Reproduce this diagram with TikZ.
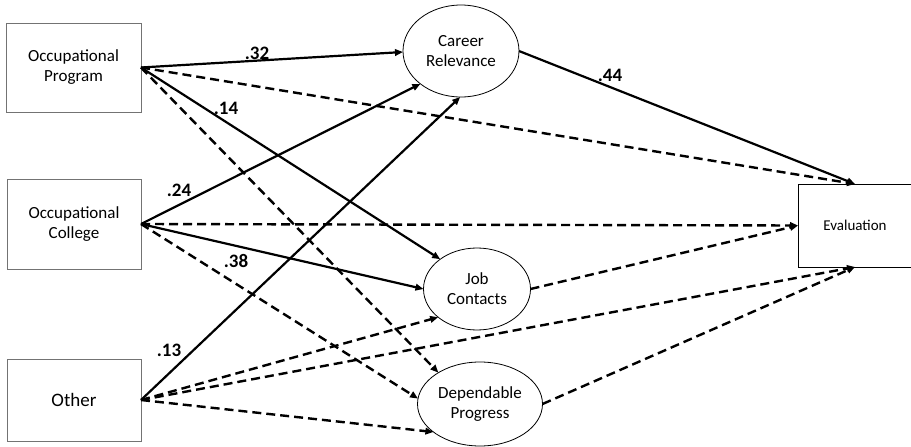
\documentclass[tikz,border=0pt]{standalone}
\usepackage{fontspec}
\setmainfont{Carlito}
\usetikzlibrary{arrows.meta,shapes.geometric}
\tikzset{
  boxnode/.style={draw=black!55, line width=0.9pt, fill=white, inner sep=0pt, outer sep=0pt, align=center, font=\fontsize{17}{20}\selectfont},
  ellnode/.style={ellipse, draw=black, line width=0.8pt, fill=white, inner sep=0pt, outer sep=0pt, align=center, font=\fontsize{17}{20}\selectfont},
  solidarrow/.style={line width=2.2pt, -{Triangle[length=8pt,width=6.5pt]}},
  dasharrow/.style={line width=2.4pt, dash pattern=on 9pt off 5pt, -{Triangle[length=8pt,width=6.5pt]}},
  coef/.style={font=\fontsize{19}{22}\selectfont\bfseries, inner sep=0pt}
}
\begin{document}
\begin{tikzpicture}[x=1pt,y=-1pt]
\useasboundingbox (0,0) rectangle (911,447);
% left boxes
\node[boxnode, minimum width=135pt, minimum height=89pt] (op) at (73.5,67.5) {Occupational\\Program};
\node[boxnode, minimum width=134pt, minimum height=90pt] (oc) at (74,224) {Occupational\\College};
\node[boxnode, minimum width=134pt, minimum height=82pt, font=\fontsize{19}{22}\selectfont] (ot) at (74,400) {Other};
% mediators
\node[ellnode, minimum width=116pt, minimum height=92pt] (cr) at (461,51) {Career\\Relevance};
\node[ellnode, minimum width=107pt, minimum height=82pt] (jc) at (477,289) {Job\\Contacts};
\node[ellnode, minimum width=125pt, minimum height=84pt] (dp) at (480,404) {Dependable\\Progress};
% outcome
\node[boxnode, draw=black, line width=0.8pt, minimum width=114pt, minimum height=83pt, font=\fontsize{15}{18}\selectfont] (ev) at (855,225.5) {Evaluation};
% paths from Occupational Program
\draw[solidarrow] (op.east) -- (cr.181);
\draw[solidarrow] (op.east) -- (jc.141);
\draw[dasharrow] (op.east) -- (dp.143);
\draw[dasharrow] (op.east) -- (ev.north);
% paths from Occupational College
\draw[solidarrow] (oc.east) -- (cr.219);
\draw[solidarrow] (oc.east) -- (jc.180);
\draw[dasharrow] (oc.east) -- (dp.175);
\draw[dasharrow] (oc.east) -- (ev.west);
% paths from Other
\draw[solidarrow] (ot.east) -- (cr.269);
\draw[dasharrow] (ot.east) -- (jc.216);
\draw[dasharrow] (ot.east) -- (dp.211);
\draw[dasharrow] (ot.east) -- (ev.south);
% mediators to outcome
\draw[solidarrow] (cr.east) -- (ev.north);
\draw[dasharrow] (jc.east) -- (ev.west);
\draw[dasharrow] (dp.east) -- (ev.south);
% coefficients
\node[coef] (c32) at (257,53) {.32};
\node[coef] (c14) at (226,108) {.14};
\node[coef] (c24) at (179,190) {.24};
\node[coef] (c38) at (236,261) {.38};
\node[coef] (c13) at (169,350) {.13};
\node[coef] (c44) at (610,75) {.44};
\end{tikzpicture}
\end{document}
